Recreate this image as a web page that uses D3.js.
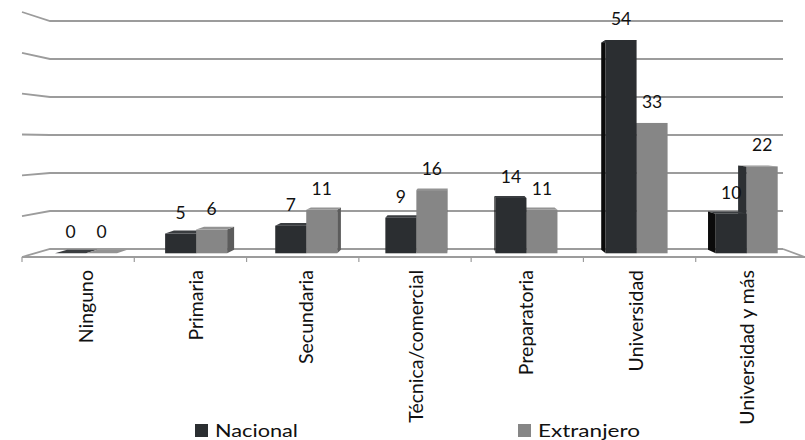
<!DOCTYPE html>
<html>
<head>
<meta charset="utf-8">
<script src="https://cdn.jsdelivr.net/npm/d3@7"></script>
<style>
  html, body { margin: 0; padding: 0; background: #fff; }
  svg { display: block; }
  text { font-family: Lato, "Open Sans", sans-serif; fill: #111; }
</style>
</head>
<body>
<svg id="chart" width="805" height="440"></svg>
<script>
// Education level of respondents, national vs. foreign (%)
const categories = ["Ninguno", "Primaria", "Secundaria", "Técnica/comercial", "Preparatoria", "Universidad", "Universidad y más"];
const nacional   = [0, 5, 7, 9, 14, 54, 10];
const extranjero = [0, 6, 11, 16, 11, 33, 22];
const seriesNames = ["Nacional", "Extranjero"];
const gridValues = [0, 10, 20, 30, 40, 50, 60];

const svg = d3.select("#chart");

// Perspective: faces recede toward a vanishing point
const VP = { x: 460, y: 135 };
const DEPTH = 0.03;
const back = p => [p[0] + (VP.x - p[0]) * DEPTH, p[1] + (VP.y - p[1]) * DEPTH];

// Scales
const x = d3.scalePoint().domain(categories).range([86, 746.7]);
const xs = d3.scaleBand().domain(seriesNames).range([-31, 31]);
const y = d3.scaleLinear().domain([0, 60]).range([253.3, 16.3]);
const wallFront = d3.scaleLinear().domain([0, 60]).range([257, 12]);
const wallBack = d3.scaleLinear().domain([0, 60]).range([249, 21]);
const floorX = d3.scaleBand().domain(categories).range([22, 808]);

const gridColor = "#9c9c9c";

// Walls: side-wall segment plus back-wall gridline for each value
const grid = svg.append("g").attr("fill", "none").attr("stroke", gridColor).attr("stroke-width", 1.8);
grid.selectAll("path.grid").data(gridValues).join("path")
  .attr("class", "grid")
  .attr("d", v => d3.line()([[22, wallFront(v)], [50, wallBack(v)], [783, wallBack(v)]]));

// Floor front edge, right edge and category ticks
grid.append("path").attr("d", d3.line()([[22, wallFront(0)], [806, wallFront(0)]]));
grid.append("path").attr("d", d3.line()([[783, wallBack(0)], [806, wallFront(0) + 0.5]]));
grid.selectAll("path.tick").data(categories).join("path")
  .attr("class", "tick")
  .attr("stroke-width", 1.2)
  .attr("d", c => d3.line()([[floorX(c), wallFront(0)], [floorX(c), wallFront(0) + 5]]));

// Bars
const colors = {
  Nacional:   { front: "#2b2e31", top: "#3a3d40", left: "#0b0b0b", right: "#1c1e20" },
  Extranjero: { front: "#868686", top: "#939393", left: "#2d3033", right: "#5c5c5c" }
};

const bars = [];
categories.forEach((c, i) => {
  [nacional[i], extranjero[i]].forEach((v, s) => {
    const name = seriesNames[s];
    const x0 = x(c) + xs(name), x1 = x0 + xs.bandwidth();
    bars.push({ cat: c, name, value: v, x0, x1, yTop: y(v), yBot: y(0) });
  });
});
// Draw bars farther from the vanishing point first
bars.sort((a, b) => Math.abs((b.x0 + b.x1) / 2 - VP.x) - Math.abs((a.x0 + a.x1) / 2 - VP.x));

const barG = svg.append("g");
bars.forEach(b => {
  const c = colors[b.name];
  const ftl = [b.x0, b.yTop], ftr = [b.x1, b.yTop], fbl = [b.x0, b.yBot], fbr = [b.x1, b.yBot];
  const btl = back(ftl), btr = back(ftr), bbl = back(fbl), bbr = back(fbr);
  const g = barG.append("g");
  const mid = (b.x0 + b.x1) / 2;
  if (mid < VP.x) {
    g.append("path").attr("fill", c.right).attr("d", d3.line()([ftr, btr, bbr, fbr]) + "Z");
  } else {
    g.append("path").attr("fill", c.left).attr("d", d3.line()([ftl, btl, bbl, fbl]) + "Z");
  }
  g.append("path").attr("fill", c.top).attr("d", d3.line()([ftl, ftr, btr, btl]) + "Z");
  g.append("rect").attr("fill", c.front)
    .attr("x", b.x0).attr("y", b.yTop)
    .attr("width", b.x1 - b.x0).attr("height", Math.max(0, b.yBot - b.yTop));
});

// Value labels
svg.append("g").selectAll("text").data(bars).join("text")
  .attr("x", b => (b.x0 + b.x1) / 2)
  .attr("y", b => b.yTop - 15)
  .attr("text-anchor", "middle")
  .attr("font-size", 17.5)
  .text(b => b.value);

// Category labels
svg.append("g").selectAll("text").data(categories).join("text")
  .attr("transform", c => `translate(${x(c)},270) rotate(-90)`)
  .attr("text-anchor", "end")
  .attr("dy", "0.35em")
  .attr("font-size", 19.5)
  .text(c => c);

// Legend
const legendX = [195, 518];
const legendW = [83, 102];
const legend = svg.append("g").selectAll("g").data(seriesNames).join("g")
  .attr("transform", (d, i) => `translate(${legendX[i]},424)`);
legend.append("rect").attr("width", 13).attr("height", 13)
  .attr("fill", d => colors[d].front);
legend.append("text").attr("x", 20).attr("y", 13)
  .attr("font-size", 18)
  .attr("textLength", (d, i) => legendW[i])
  .attr("lengthAdjust", "spacingAndGlyphs")
  .text(d => d);
</script>
</body>
</html>
